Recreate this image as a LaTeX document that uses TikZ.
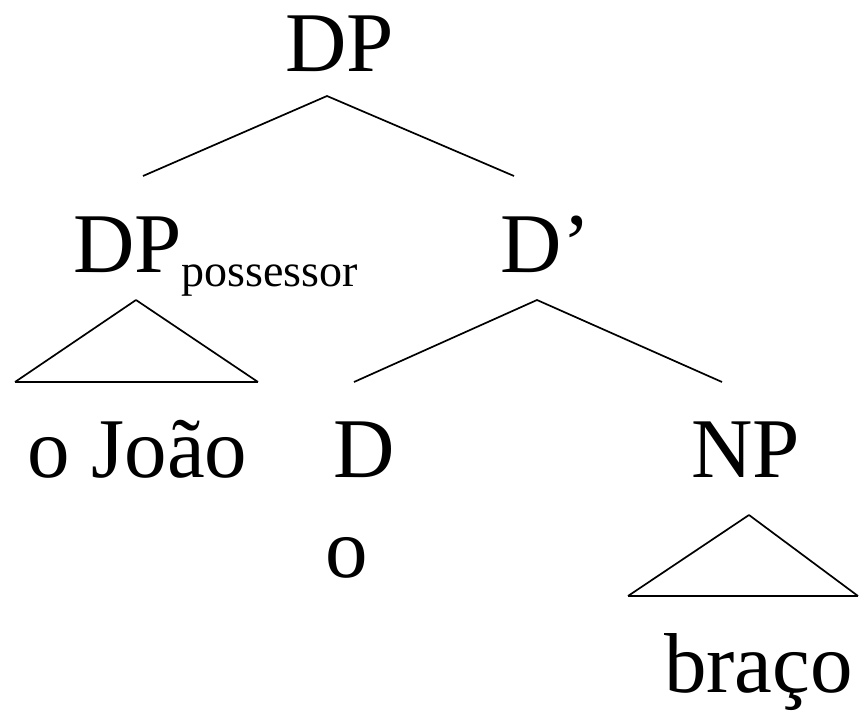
\documentclass[tikz,border=0pt]{standalone}
\usepackage{fontspec}
\setmainfont{Liberation Serif}
\usetikzlibrary{positioning}

\begin{document}
\begin{tikzpicture}[x=0.5pt, y=-0.5pt,
    cat/.style={inner sep=0, anchor=base, font=\fontsize{42.5}{50}\selectfont},
    branch/.style={line width=0.85pt},
    roof/.style={line width=0.85pt, line join=miter}
  ]
  \useasboundingbox (0,0) rectangle (859,712);

  % labels
  \node [cat] (dp)   at (339.5,71)  {DP};
  \node [cat] (poss) at (215.5,272) {DP\raisebox{-7pt}{\fontsize{23}{26}\selectfont possessor}};
  \node [cat] (dbar) at (545.5,272) {D’};
  \node [cat] (joao) at (137.5,477) {o João};
  \node [cat] (d)    at (364,477)   {D};
  \node [cat] (np)   at (745.5,477) {NP};
  \node [cat] (det)  at (347,577)   {o};
  \node [cat] (braco) at (758.5,692) {braço};

  % branch points
  \coordinate (dp-b)   at (327,96);
  \coordinate (poss-t) at (143,176);
  \coordinate (dbar-t) at (514,176);
  \coordinate (dbar-b) at (537,300);
  \coordinate (d-t)    at (354,382);
  \coordinate (np-t)   at (722,382);
  \coordinate (poss-b) at (136,300);
  \coordinate (np-b)   at (749,515);

  \draw [branch] (poss-t) -- (dp-b) -- (dbar-t);
  \draw [branch] (d-t) -- (dbar-b) -- (np-t);

  % triangles
  \draw [roof] (poss-b) -- (258,382) (poss-b) -- (15,382);
  \draw [line width=1.3pt] (15,382) -- (258,382);
  \draw [roof] (np-b) -- (858,596) (np-b) -- (628,596);
  \draw [line width=1.3pt] (628,596) -- (858,596);
\end{tikzpicture}
\end{document}
